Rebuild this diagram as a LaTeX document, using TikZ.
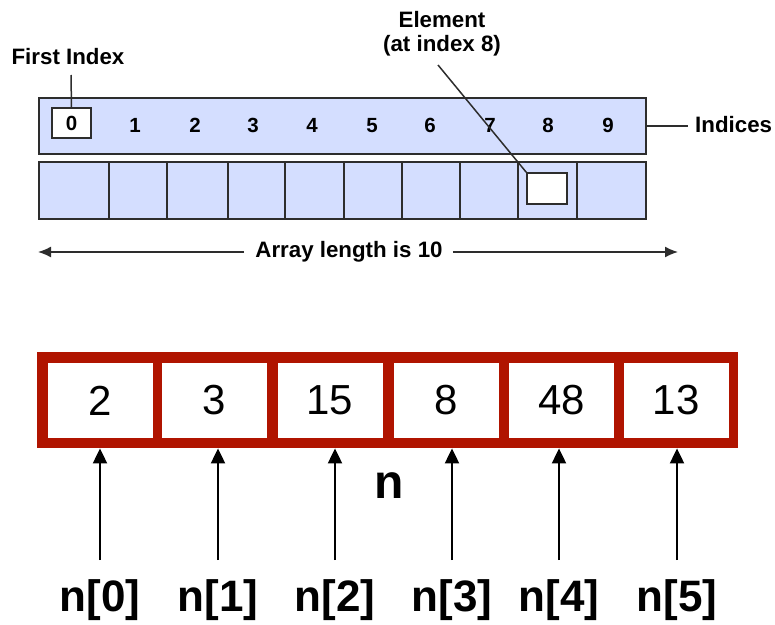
\documentclass[tikz,border=0pt]{standalone}
\usepackage{fontspec}
\setmainfont{Liberation Sans}
\usetikzlibrary{arrows.meta}
\definecolor{cellblue}{RGB}{212,222,255}
\definecolor{edgegray}{RGB}{45,45,45}
\definecolor{arrred}{RGB}{176,20,0}
\begin{document}
\begin{tikzpicture}[x=1pt,y=-1pt,
  lbl/.style={font=\bfseries\fontsize{22.3}{25}\selectfont, inner sep=0pt, align=center},
  idx/.style={font=\bfseries\fontsize{20.5}{23}\selectfont, inner sep=0pt, anchor=base},
  bluecell/.style={draw=edgegray, line width=1.6pt, fill=cellblue, inner sep=0pt},
  whitebox/.style={draw=edgegray, line width=1.6pt, fill=white, inner sep=0pt},
  val/.style={fill=white, inner sep=0pt, minimum width=105pt, minimum height=75pt,
              font=\fontsize{42}{48}\selectfont},
  ptr/.style={-{Triangle[length=15pt,width=14pt]}, line width=2pt},
  nlbl/.style={font=\bfseries\fontsize{44}{50}\selectfont, inner sep=0pt},
  lenarrow/.style={-{Latex[length=13pt,width=11pt]}, line width=1.5pt, draw=edgegray},
  thin/.style={line width=1.5pt, draw=edgegray}]
\useasboundingbox (0,0) rectangle (775,624);

% ---------- index bar and element cells ----------
\node[bluecell, minimum width=607pt, minimum height=56pt, anchor=north west] (bar) at (38,97) {};
\foreach \i/\l/\r in {0/38/108,1/108/166,2/166/227,3/227/284,4/284/343,
                      5/343/401,6/401/459,7/459/517,8/517/576,9/576/645}
  \node[bluecell, minimum width={\r-\l}, minimum height=57pt, anchor=north west]
    (cell\i) at (\l,161) {};

\node[whitebox, minimum width=39pt, minimum height=30pt] (zero) at (71.5,123) {};
\node[idx] (ix0) at (71.5,130.5) {0};
\foreach \i/\x in {1/135,2/195,3/253,4/312,5/372,6/430,7/490,8/548,9/608}
  \node[idx] (ix\i) at (\x,132) {\i};

\node[whitebox, minimum width=40pt, minimum height=31pt] (elbox) at (547,188.5) {};

% ---------- annotations ----------
\node[lbl] (first) at (68,57) {First Index};
\coordinate (firstend) at (71,75);
\draw[thin] (firstend) -- (zero.north);

\node[lbl, align=center] (elem) at (442,34) {Element\\[-1pt](at index 8)};
\coordinate (elemend) at (438,65);
\draw[thin] (elemend) -- (elbox.north west);

\node[lbl, anchor=west] (indices) at (695,125) {Indices};
\coordinate (indstart) at ([xshift=-7pt]indices.west);
\draw[thin] (bar.east) -- (bar.east -| indstart);

\node[lbl] (len) at (349,252) {Array length is 10};
\coordinate (lenL) at (38,252);
\coordinate (lenR) at (678,252);
\draw[lenarrow] ([xshift=-11pt]len.west) -- (lenL);
\draw[lenarrow] ([xshift=10pt]len.east) -- (lenR);

% ---------- array n ----------
\node[fill=arrred, inner sep=0pt, minimum width=701pt, minimum height=96pt, anchor=north west]
  (arr) at (37,352) {};
\foreach \k/\x/\v in {0/100/2,1/214/3,2/330/15,3/446/8,4/561.5/48,5/676/13}
  \node[val] (c\k) at (\x,400.5) {\v};

\node[nlbl, font=\bfseries\fontsize{48}{54}\selectfont] (nname) at (389,486) {n};

\foreach \k/\x in {0/100,1/218,2/335,3/452,4/559,5/677}{
  \coordinate (tail\k) at (\x,560);
  \node[nlbl] (p\k) at (\x,600) {n[\k]};
  \draw[ptr] (tail\k) -- (tail\k |- arr.south);
}
\end{tikzpicture}
\end{document}
